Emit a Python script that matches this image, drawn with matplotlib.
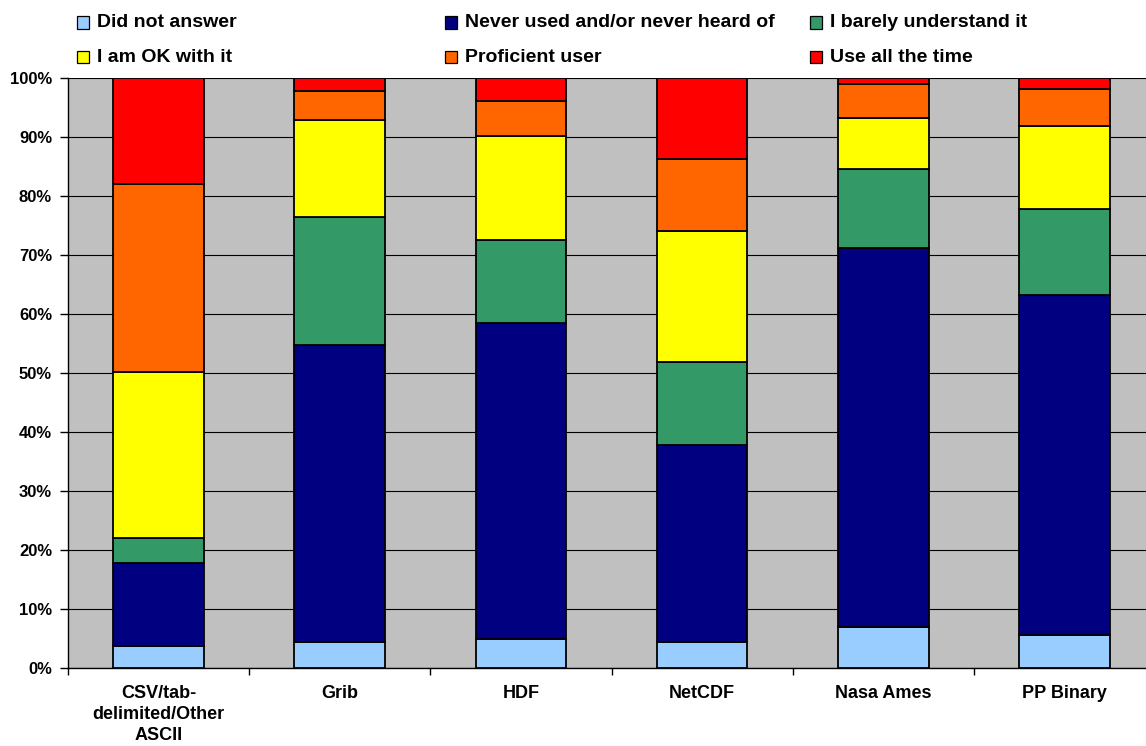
import matplotlib
matplotlib.use("Agg")
import matplotlib.pyplot as plt
from matplotlib.patches import Rectangle
import numpy as np

plt.rcParams['font.family'] = ['Liberation Sans', 'DejaVu Sans']
plt.rcParams['font.weight'] = 'bold'

categories = ["CSV/tab-\ndelimited/Other\nASCII", "Grib", "HDF", "NetCDF", "Nasa Ames", "PP Binary"]

series_names = ["Did not answer", "Never used and/or never heard of", "I barely understand it",
                "I am OK with it", "Proficient user", "Use all the time"]

did_not_answer = [3.8, 4.5, 4.9, 4.4, 7.0, 5.6]
never_used = [14.1, 50.3, 53.7, 33.5, 64.2, 57.6]
barely_understand = [4.2, 21.7, 14.0, 14.0, 13.4, 14.7]
ok_with_it = [28.1, 16.4, 17.6, 22.2, 8.7, 14.0]
proficient = [31.9, 4.9, 6.0, 12.2, 5.7, 6.3]
use_all_time = [17.9, 2.2, 3.8, 13.7, 1.0, 1.8]

series_values = [did_not_answer, never_used, barely_understand, ok_with_it, proficient, use_all_time]
colors = ["#99CCFF", "#000080", "#339966", "#FFFF00", "#FF6600", "#FF0000"]

W, H = 1146, 746
fig = plt.figure(figsize=(W / 100, H / 100), dpi=100)

# plot area in pixel coordinates (left, top, right, bottom)
pl, pt, pr, pb = 68, 78.3, 1155, 668.3
ax = fig.add_axes([pl / W, (H - pb) / H, (pr - pl) / W, (pb - pt) / H])
ax.set_facecolor("#C0C0C0")

x = np.arange(len(categories))
bottom = np.zeros(len(categories))
for vals, col, name in zip(series_values, colors, series_names):
    v = np.array(vals)
    ax.bar(x, v, width=0.5, bottom=bottom, color=col, edgecolor="black",
           linewidth=1.3, label=name, zorder=3)
    bottom += v

ax.set_xlim(-0.5, len(categories) - 0.5)
ax.set_ylim(0, 100)

ax.set_yticks(np.arange(0, 101, 10))
ax.set_yticklabels([f"{v}%" for v in range(0, 101, 10)], fontsize=12, fontweight="bold")
ax.yaxis.grid(True, color="black", linewidth=0.8, zorder=0)
ax.set_axisbelow(True)

ax.set_xticks(x)
ax.set_xticklabels(categories, fontsize=13, fontweight="bold", linespacing=1.3)
ax.set_xticks(np.arange(-0.5, len(categories) + 0.5, 1), minor=True)
ax.tick_params(axis="x", which="major", length=0, pad=12)
ax.tick_params(axis="x", which="minor", length=5, width=1, direction="out", color="black")
ax.tick_params(axis="y", length=5.5, width=1, direction="out", color="black", pad=6)

for side in ["top", "right"]:
    ax.spines[side].set_visible(False)
for side in ["left", "bottom"]:
    ax.spines[side].set_color("black")
    ax.spines[side].set_linewidth(1.0)

# legend laid out in a 3 x 2 grid of equal-width columns
text_x = [97, 465, 830]
row_y = [22.5, 57]
for i, (name, col) in enumerate(zip(series_names, colors)):
    r, c = divmod(i, 3)
    tx, cy = text_x[c], row_y[r]
    mx = tx - 20
    fig.add_artist(Rectangle((mx / W, (H - cy - 6) / H), 12 / W, 12 / H,
                             transform=fig.transFigure, facecolor=col,
                             edgecolor="black", linewidth=0.9))
    fig.text(tx / W, (H - cy) / H, name, fontsize=14, fontweight="bold",
             ha="left", va="center")

fig.savefig("out.png", dpi=100)
